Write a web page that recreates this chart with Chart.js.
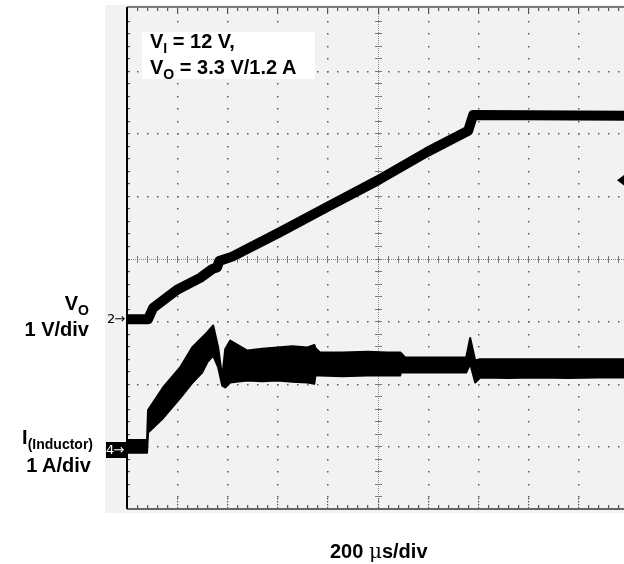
<!DOCTYPE html>
<html>
<head>
<meta charset="utf-8">
<script src="https://cdn.jsdelivr.net/npm/chart.js@4.4.1/dist/chart.umd.min.js"></script>
<style>
html, body { margin:0; padding:0; overflow:hidden; background:#fff; }
body { width:624px; height:564px; position:relative; font-family:"Liberation Sans", Arial, sans-serif; font-weight:bold; color:#000; }
#screen { position:absolute; left:105px; top:5px; width:519px; height:508px; background:#f2f2f2; }
#scope { position:absolute; left:0; top:0; }
.lbl { position:absolute; font-size:20px; line-height:20px; white-space:nowrap; }
.sub { font-size:14px; position:relative; top:5px; }
.mark { position:absolute; font-family:"DejaVu Sans", sans-serif; font-weight:normal; font-size:13px; line-height:14px; white-space:nowrap; letter-spacing:-1px; }
#note { position:absolute; left:142px; top:32px; width:173px; height:47px; background:#fff; }
</style>
</head>
<body>
<div id="screen"></div>
<canvas id="scope" width="640" height="564"></canvas>

<div id="note"></div>
<div class="lbl" style="left:150px; top:31px;">V<span class="sub">I</span> = 12 V,</div>
<div class="lbl" style="left:150px; top:57px;">V<span class="sub">O</span> = 3.3 V/1.2 A</div>

<div class="lbl" style="right:535px; top:293px;">V<span class="sub">O</span></div>
<div class="lbl" style="right:535px; top:319px;">1 V/div</div>
<div class="lbl" style="right:531px; top:427px;">I<span class="sub">(Inductor)</span></div>
<div class="lbl" style="right:533px; top:455px;">1 A/div</div>

<div class="mark" style="left:107px; top:312px;">2&#8594;</div>
<div class="mark" style="left:106px; top:442px; width:21px; height:16px; line-height:16px; background:#000; color:#fff;">4&#8594;</div>

<div class="lbl" style="left:330px; top:541px;">200 <span style="font-weight:normal; font-family:'DejaVu Serif', serif;">&#956;</span>s/div</div>

<script>
// time axis in divisions (200 us/div), 10 divisions across the screen
const vTime = [0, 0.42, 0.52, 1.0, 1.46, 1.70, 1.80, 1.84, 2.10, 3.05, 3.99, 5.01, 5.99, 6.81, 6.91, 10];
const vOut  = [0.03, 0.03, 0.21, 0.50, 0.69, 0.83, 0.86, 0.96, 1.03, 1.42, 1.82, 2.25, 2.70, 3.04, 3.29, 3.28];

// inductor current drawn as the envelope of the ripple band (A)
const iTime  = [0, 0.40, 0.42, 0.72, 1.06, 1.30, 1.50, 1.60, 1.72, 1.82, 1.90, 1.96, 2.06, 2.4, 2.7, 3.0, 3.3, 3.6, 3.74, 3.76, 3.85, 4.3, 4.8, 5.2, 5.45, 5.47, 5.55, 6.0, 6.4, 6.77, 6.85, 6.95, 7.05, 7.6, 8.2, 8.8, 9.4, 10];
const iUpper = [0.10, 0.10, 0.58, 0.94, 1.26, 1.58, 1.74, 1.82, 1.93, 1.58, 1.10, 1.55, 1.69, 1.53, 1.56, 1.58, 1.60, 1.58, 1.62, 1.57, 1.50, 1.50, 1.51, 1.50, 1.50, 1.49, 1.42, 1.42, 1.42, 1.42, 1.73, 1.37, 1.39, 1.39, 1.39, 1.39, 1.39, 1.39];
const iLower = [-0.10, -0.10, 0.22, 0.45, 0.77, 1.01, 1.18, 1.34, 1.45, 1.26, 0.97, 0.94, 1.02, 1.05, 1.04, 1.05, 1.03, 1.02, 1.00, 1.13, 1.13, 1.12, 1.13, 1.13, 1.13, 1.18, 1.18, 1.18, 1.18, 1.18, 1.32, 1.02, 1.10, 1.09, 1.10, 1.09, 1.10, 1.10];

const trigLevel = 2.25; // V, channel 2

const pts = (xs, ys) => xs.map((t, i) => ({ x: t, y: ys[i] }));

// oscilloscope graticule
const scopeGrid = {
  id: 'scopeGrid',
  beforeDatasetsDraw(chart) {
    const { ctx, chartArea: a, scales } = chart;
    const px = v => Math.round(scales.x.getPixelForValue(v));
    const py = v => Math.round(scales.yV.getPixelForValue(v));
    ctx.save();
    ctx.fillStyle = '#5c5c5c';
    // dotted major lines
    for (let j = -2; j <= 4; j++) {
      if (j === 1) continue;
      for (let k = 1; k < 50; k++) ctx.fillRect(px(k / 5), py(j), 1.5, 1.5);
    }
    for (let i = 1; i <= 9; i++) {
      if (i === 5) continue;
      for (let k = 1; k < 40; k++) ctx.fillRect(px(i), py(-3 + k / 5), 1.5, 1.5);
    }
    // centre cross with small ticks
    ctx.fillStyle = '#8c8c8c';
    const cx = px(5), cy = py(1);
    for (let y = a.top; y < a.bottom; y += 2) ctx.fillRect(cx, y, 1, 1);
    for (let x = a.left; x < a.right; x += 2) ctx.fillRect(x, cy, 1, 1);
    ctx.fillStyle = '#777';
    for (let k = 1; k < 40; k++) ctx.fillRect(cx - 3, py(-3 + k / 5), 7, 1);
    for (let k = 1; k < 50; k++) ctx.fillRect(px(k / 5), cy - 3, 1, 7);
    // edge ticks
    ctx.fillStyle = '#555';
    for (let k = 1; k < 50; k++) {
      const x = px(k / 5), major = k % 5 === 0;
      ctx.fillRect(x, a.top, 1.2, major ? 6 : 3);
      if (major) { for (let d = 2; d < 14; d += 3) ctx.fillRect(x, a.bottom - d, 1.2, 1.5); }
      else ctx.fillRect(x, a.bottom - 4, 1.2, 4);
    }
    for (let k = 1; k < 40; k++) ctx.fillRect(a.left + 1, py(-3 + k / 5), 2, 1.2);
    // borders
    ctx.fillStyle = '#7a7a7a';
    ctx.fillRect(a.left, a.top - 2, a.right - a.left, 2);
    ctx.fillStyle = '#666';
    ctx.fillRect(a.left, a.bottom - 1, a.right - a.left, 2);
    ctx.fillStyle = '#000';
    ctx.fillRect(a.left - 1, a.top - 1, 2, a.bottom - a.top + 1);
    ctx.restore();
  },
  afterDatasetsDraw(chart) {
    const { ctx, scales } = chart;
    const y = scales.yV.getPixelForValue(trigLevel);
    ctx.save();
    ctx.fillStyle = '#000';
    ctx.beginPath();
    ctx.moveTo(617, y);
    ctx.lineTo(625, y - 6);
    ctx.lineTo(625, y + 6);
    ctx.closePath();
    ctx.fill();
    ctx.restore();
  }
};

new Chart(document.getElementById('scope').getContext('2d'), {
  type: 'line',
  data: {
    datasets: [
      { label: 'VO', data: pts(vTime, vOut), yAxisID: 'yV', borderColor: '#000', borderWidth: 10, borderJoinStyle: 'round', pointRadius: 0, fill: false },
      { label: 'IL max', data: pts(iTime, iUpper), yAxisID: 'yI', borderColor: '#000', borderWidth: 2, borderJoinStyle: 'round', pointRadius: 0, fill: false },
      { label: 'IL min', data: pts(iTime, iLower), yAxisID: 'yI', borderColor: '#000', borderWidth: 2, borderJoinStyle: 'round', pointRadius: 0, fill: '-1', backgroundColor: '#000' }
    ]
  },
  options: {
    responsive: false,
    animation: false,
    layout: { padding: { left: 127, top: 8, right: 12, bottom: 55 } },
    plugins: { legend: { display: false }, tooltip: { enabled: false } },
    scales: {
      x: { type: 'linear', min: 0, max: 10, display: false },
      yV: { type: 'linear', min: -3, max: 5, display: false },
      yI: { type: 'linear', min: -1, max: 7, display: false }
    }
  },
  plugins: [scopeGrid]
});
</script>
</body>
</html>
